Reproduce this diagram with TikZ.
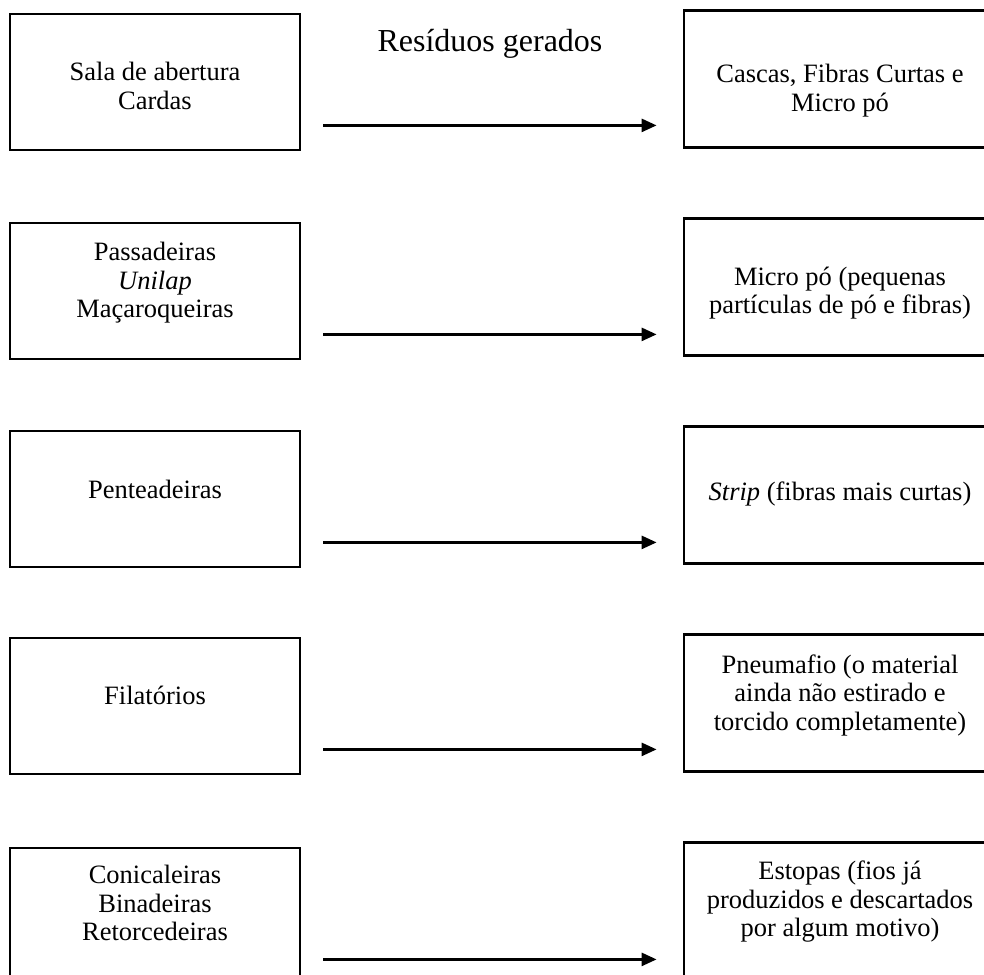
\documentclass[tikz,border=0pt]{standalone}
\usepackage{fontspec}
\setmainfont{Liberation Serif}
\usetikzlibrary{arrows.meta}
\tikzstyle{stage} = [rectangle, draw=black, line width=2.8pt, minimum width=290pt, minimum height=136pt, inner sep=0pt]
\tikzstyle{waste} = [rectangle, draw=black, line width=2.8pt, minimum width=312pt, minimum height=137pt, inner sep=0pt]
\tikzstyle{boxtext} = [align=center, inner sep=0pt, font=\fontsize{26.5}{28.5}\selectfont]
\tikzstyle{arrow} = [line width=2.6pt, -{Triangle[length=15pt, width=13pt]}]

\begin{document}
\begin{tikzpicture}[x=1pt, y=-1pt]

\clip (0,0) rectangle (984,974);

% stages on the left
\node at (155, 82) (stage1) [stage] {};
\node at (155, 291) (stage2) [stage] {};
\node at (155, 499) (stage3) [stage] {};
\node at (155, 706) (stage4) [stage] {};
\node at (155, 916) (stage5) [stage] {};

% residues on the right
\node at (840, 79) (waste1) [waste] {};
\node at (840, 287) (waste2) [waste] {};
\node at (840, 495) (waste3) [waste] {};
\node at (840, 703) (waste4) [waste] {};
\node at (840, 911) (waste5) [waste] {};

\node at ([yshift=-4pt]stage1.center) (stage1text) [boxtext] {Sala de abertura\\Cardas};
\node at ([yshift=8pt]stage2.center) (stage2text) [boxtext] {Passadeiras\\\textit{Unilap}\\Maçaroqueiras};
\node at ([yshift=10pt]stage3.center) (stage3text) [boxtext] {Penteadeiras};
\node at ([yshift=10.5pt]stage4.center) (stage4text) [boxtext] {Filatórios};
\node at ([yshift=13pt]stage5.center) (stage5text) [boxtext] {Conicaleiras\\Binadeiras\\Retorcedeiras};

\node at ([yshift=-11.5pt]waste1.center) (waste1text) [boxtext] {Cascas, Fibras Curtas e\\Micro pó};
\node at ([yshift=-6pt]waste2.center) (waste2text) [boxtext] {Micro pó (pequenas\\partículas de pó e fibras)};
\node at ([yshift=1pt]waste3.center) (waste3text) [boxtext] {\textit{Strip} (fibras mais curtas)};
\node at ([yshift=8pt]waste4.center) (waste4text) [boxtext] {Pneumafio (o material\\ainda não estirado e\\torcido completamente)};
\node at ([yshift=9pt]waste5.center) (waste5text) [boxtext] {Estopas (fios já\\produzidos e descartados\\por algum motivo)};

\node at (490, 52) (title) [anchor=base, inner sep=0pt, font=\fontsize{32}{38}\selectfont] {Resíduos gerados};

\foreach \i in {1,...,5}
  \draw[arrow] ([xshift=22pt, yshift=26pt]stage\i.south east) -- ([xshift=-26pt, yshift=26pt]stage\i.south east -| waste\i.west);

\end{tikzpicture}
\end{document}
